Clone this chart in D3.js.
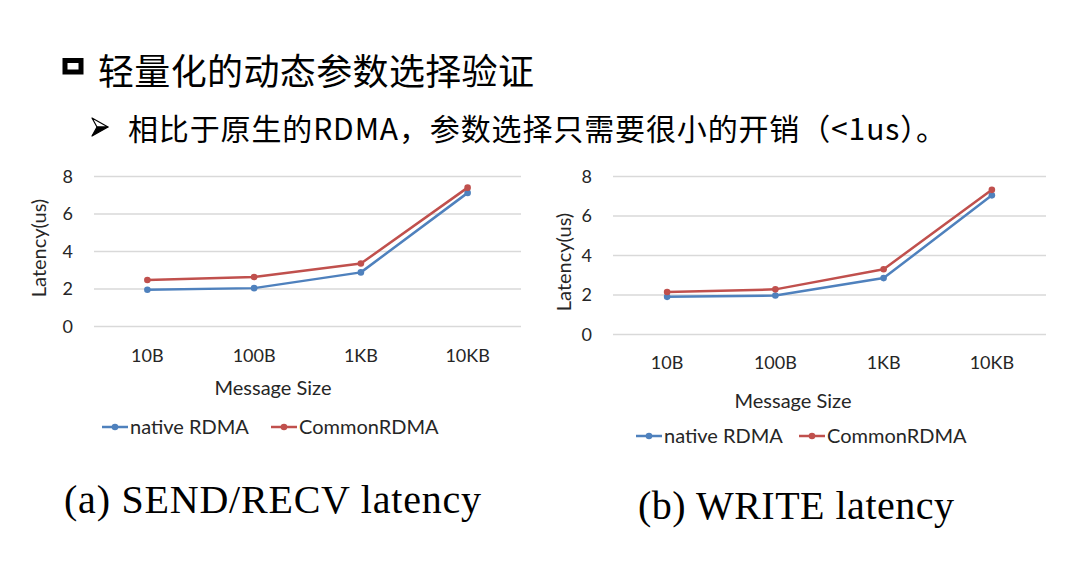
<!DOCTYPE html>
<html>
<head>
<meta charset="utf-8">
<script src="https://cdn.jsdelivr.net/npm/d3@7"></script>
<style>
  body { margin: 0; background: #fff; }
  svg { display: block; }
  .tick text { font-family: Lato, "Noto Sans", sans-serif; font-size: 18px; fill: #262626; }
</style>
</head>
<body>
<svg width="1080" height="577"></svg>
<script>
// data
var sizes = ["10B", "100B", "1KB", "10KB"];
var yTicks = [0, 2, 4, 6, 8];
var seriesNames = ["native RDMA", "CommonRDMA"];
var seriesColors = ["#4f81bd", "#c0504d"];

var sendNative = [1.93, 2.02, 2.86, 7.1];
var sendCommon = [2.45, 2.61, 3.33, 7.38];
var writeNative = [1.88, 1.95, 2.83, 7.02];
var writeCommon = [2.13, 2.26, 3.28, 7.3];

var svg = d3.select("svg");

// slide heading
svg.append("rect")
  .attr("x", 65).attr("y", 60.5).attr("width", 16).attr("height", 11.5)
  .attr("fill", "none").attr("stroke", "#000").attr("stroke-width", 5);
svg.append("text")
  .attr("x", 98).attr("y", 85)
  .attr("textLength", 436).attr("lengthAdjust", "spacing")
  .style("font-family", "'Noto Sans CJK SC'").style("font-size", "36px")
  .text("轻量化的动态参数选择验证");

// bullet arrow
svg.append("path")
  .attr("d", "M92,118 L108,127 L97,127 Z")
  .attr("fill", "#fff").attr("stroke", "#000").attr("stroke-width", 1.2).attr("stroke-linejoin", "round");
svg.append("path")
  .attr("d", "M97,127 L108,127 L92,136 Z")
  .attr("fill", "#000").attr("stroke", "#000").attr("stroke-width", 1.2).attr("stroke-linejoin", "round");
svg.append("text")
  .attr("x", 128).attr("y", 140)
  .attr("textLength", 818).attr("lengthAdjust", "spacing")
  .style("font-family", "'Noto Sans CJK SC'").style("font-size", "30px")
  .text("相比于原生的RDMA，参数选择只需要很小的开销（<1us）。");

function drawChart(o) {
  var x = d3.scaleBand().domain(sizes).range([o.x0, o.x1]);
  var y = d3.scaleLinear().domain([0, 8]).range([o.y0, o.y1]);
  var g = svg.append("g");

  var ax = g.append("g")
    .attr("transform", "translate(" + o.x0 + ",0)")
    .call(d3.axisLeft(y).tickValues(yTicks).tickSize(-(o.x1 - o.x0)).tickPadding(21));
  ax.select(".domain").remove();
  ax.selectAll(".tick line").attr("stroke", "#d9d9d9").attr("stroke-width", 1.3);
  ax.selectAll(".tick text").attr("dy", "0.36em");

  var bx = g.append("g")
    .attr("transform", "translate(0," + o.xLabelY + ")")
    .call(d3.axisBottom(x).tickSize(0).tickPadding(0));
  bx.select(".domain").remove();
  bx.selectAll(".tick text").attr("dy", 0);

  g.append("text")
    .attr("x", o.xTitleX).attr("y", o.xTitleY)
    .attr("text-anchor", "middle")
    .style("font-family", "Lato, sans-serif").style("font-size", "20px").style("fill", "#262626")
    .text("Message Size");

  g.append("text")
    .attr("transform", "translate(" + o.yTitleX + "," + o.yTitleY + ") rotate(-90)")
    .attr("text-anchor", "middle")
    .style("font-family", "Lato, sans-serif").style("font-size", "20px").style("fill", "#262626")
    .text("Latency(us)");

  var line = d3.line()
    .x(function(d, i) { return x(sizes[i]) + x.bandwidth() / 2; })
    .y(function(d) { return y(d); });

  [o.native, o.common].forEach(function(vals, s) {
    g.append("path")
      .attr("d", line(vals))
      .attr("fill", "none")
      .attr("stroke", seriesColors[s])
      .attr("stroke-width", 2.5)
      .attr("stroke-linejoin", "round");
    g.selectAll(null).data(vals).enter().append("circle")
      .attr("cx", function(d, i) { return x(sizes[i]) + x.bandwidth() / 2; })
      .attr("cy", function(d) { return y(d); })
      .attr("r", 3.3)
      .attr("fill", seriesColors[s]);
  });

  // legend
  seriesNames.forEach(function(name, s) {
    var lx = o.legendX[s];
    g.append("line")
      .attr("x1", lx).attr("x2", lx + 26)
      .attr("y1", o.legendY - 7).attr("y2", o.legendY - 7)
      .attr("stroke", seriesColors[s]).attr("stroke-width", 2.5);
    g.append("circle")
      .attr("cx", lx + 13).attr("cy", o.legendY - 7).attr("r", 3.3)
      .attr("fill", seriesColors[s]);
    g.append("text")
      .attr("x", lx + 28).attr("y", o.legendY)
      .style("font-family", "Lato, sans-serif").style("font-size", "20px").style("fill", "#262626")
      .text(name);
  });

  svg.append("text")
    .attr("x", o.capX).attr("y", o.capY)
    .attr("textLength", o.capW).attr("lengthAdjust", "spacing")
    .style("font-family", "'Liberation Serif', 'Times New Roman', serif").style("font-size", "40px")
    .text(o.caption);
}

drawChart({
  x0: 94, x1: 521, y0: 326, y1: 176,
  xLabelY: 362, xTitleX: 273, xTitleY: 395,
  yTitleX: 46, yTitleY: 248,
  legendX: [102, 271], legendY: 434,
  native: sendNative, common: sendCommon,
  caption: "(a)  SEND/RECV latency", capX: 64, capY: 513, capW: 417
});

drawChart({
  x0: 613, x1: 1046, y0: 334, y1: 176,
  xLabelY: 369, xTitleX: 793, xTitleY: 408,
  yTitleX: 571, yTitleY: 262,
  legendX: [636, 799], legendY: 443,
  native: writeNative, common: writeCommon,
  caption: "(b)  WRITE latency", capX: 638, capY: 519, capW: 316
});
</script>
</body>
</html>
